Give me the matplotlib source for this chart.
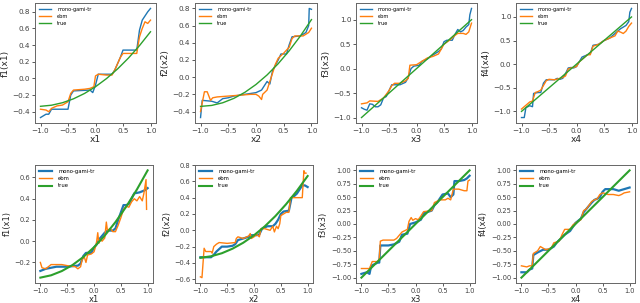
import matplotlib
matplotlib.use("Agg")
import matplotlib.pyplot as plt

# ---- top row (first run) ----
t1_gx = [-1.0, -0.8, -0.6, -0.4, -0.2, 0.0, 0.2, 0.4, 0.6, 0.8, 1.0]
t1_true = [-0.335, -0.322, -0.292, -0.245, -0.181, -0.1, -0.002, 0.113, 0.245, 0.394, 0.56]
t1_bx = [-1.0, -0.9, -0.85, -0.8, -0.55, -0.5, -0.45, -0.4, -0.1, -0.05, 0.0, 0.05, 0.3, 0.35,
         0.45, 0.5, 0.75, 0.8, 0.85, 0.9, 0.95, 1.0]
t1_by = [-0.47, -0.43, -0.43, -0.37, -0.37, -0.37, -0.2, -0.15, -0.14, -0.17, -0.08, 0.05, 0.05, 0.1,
         0.25, 0.34, 0.34, 0.58, 0.7, 0.75, 0.8, 0.84]
t1_ex = [-1.0, -0.9, -0.85, -0.8, -0.7, -0.6, -0.5, -0.45, -0.4, -0.2, -0.1, -0.03, 0.0, 0.05, 0.2,
         0.3, 0.35, 0.45, 0.5, 0.75, 0.8, 0.85, 0.9, 0.95, 1.0]
t1_ey = [-0.37, -0.38, -0.4, -0.36, -0.33, -0.32, -0.28, -0.18, -0.14, -0.13, -0.12, -0.1, 0.03, 0.05,
         0.04, 0.04, 0.1, 0.25, 0.3, 0.3, 0.5, 0.6, 0.68, 0.66, 0.7]

t2_gx = [-1.0, -0.8, -0.6, -0.4, -0.2, 0.0, 0.2, 0.4, 0.6, 0.8, 1.0]
t2_true = [-0.34, -0.329, -0.298, -0.247, -0.176, -0.085, 0.026, 0.157, 0.308, 0.479, 0.67]
t2_bx = [-1.0, -0.97, -0.8, -0.7, -0.6, -0.5, -0.4, -0.2, 0.0, 0.1, 0.15, 0.2, 0.25, 0.3, 0.4,
         0.45, 0.55, 0.6, 0.65, 0.8, 0.9, 0.95, 0.96, 1.0]
t2_by = [-0.47, -0.27, -0.28, -0.3, -0.25, -0.24, -0.22, -0.2, -0.18, -0.15, -0.1, -0.05, -0.08, 0.08,
         0.2, 0.27, 0.27, 0.38, 0.47, 0.48, 0.52, 0.6, 0.8, 0.79]
t2_ex = [-1.0, -0.97, -0.93, -0.88, -0.82, -0.78, -0.7, -0.5, -0.3, -0.1, 0.0, 0.05, 0.1, 0.12, 0.2,
         0.25, 0.3, 0.35, 0.4, 0.5, 0.6, 0.65, 0.7, 0.85, 0.9, 0.95, 1.0]
t2_ey = [-0.4, -0.3, -0.17, -0.17, -0.27, -0.24, -0.23, -0.22, -0.21, -0.2, -0.2, -0.22, -0.26, -0.2,
         -0.15, -0.05, 0.05, 0.15, 0.22, 0.28, 0.35, 0.45, 0.48, 0.48, 0.5, 0.52, 0.57]

t3_gx = [-1.0, 1.0]
t3_true = [-1.0, 1.0]
t3_bx = [-1.0, -0.95, -0.9, -0.85, -0.8, -0.75, -0.7, -0.65, -0.6, -0.55, -0.5, -0.45, -0.3, -0.2,
         -0.15, -0.1, -0.05, 0.05, 0.1, 0.2, 0.3, 0.4, 0.45, 0.5, 0.55, 0.65, 0.7, 0.75, 0.8, 0.85,
         0.9, 0.95, 0.97, 1.0]
t3_by = [-0.8, -0.83, -0.85, -0.72, -0.73, -0.78, -0.78, -0.74, -0.6, -0.57, -0.45, -0.33, -0.33, -0.28,
         -0.18, 0.0, 0.05, 0.07, 0.15, 0.2, 0.28, 0.35, 0.4, 0.55, 0.58, 0.58, 0.7, 0.8, 0.75, 0.78,
         0.85, 0.9, 1.1, 1.23]
t3_ex = [-1.0, -0.9, -0.85, -0.7, -0.6, -0.5, -0.45, -0.4, -0.3, -0.2, -0.15, -0.12, 0.0, 0.1, 0.2,
         0.3, 0.4, 0.45, 0.5, 0.6, 0.7, 0.75, 0.85, 0.9, 0.95, 1.0]
t3_ey = [-0.72, -0.7, -0.66, -0.67, -0.6, -0.45, -0.35, -0.3, -0.3, -0.25, -0.2, 0.07, 0.08, 0.15, 0.22,
         0.25, 0.3, 0.4, 0.5, 0.58, 0.68, 0.72, 0.72, 0.7, 0.75, 0.93]

t4_gx = [-1.0, 1.0]
t4_true = [-1.0, 1.0]
t4_bx = [-1.0, -0.95, -0.92, -0.85, -0.8, -0.78, -0.7, -0.65, -0.6, -0.55, -0.4, -0.35, -0.3, -0.25,
         -0.2, -0.15, -0.1, -0.05, 0.0, 0.05, 0.1, 0.2, 0.25, 0.3, 0.4, 0.5, 0.6, 0.7, 0.8, 0.9,
         0.95, 0.97, 1.0]
t4_by = [-1.13, -1.13, -0.92, -0.88, -0.9, -0.62, -0.6, -0.6, -0.4, -0.33, -0.33, -0.3, -0.32, -0.3,
         -0.2, -0.08, -0.07, -0.08, -0.05, 0.05, 0.15, 0.2, 0.22, 0.4, 0.42, 0.5, 0.55, 0.65, 0.75, 0.82,
         0.9, 1.1, 1.18]
t4_ex = [-1.0, -0.9, -0.85, -0.8, -0.75, -0.7, -0.65, -0.6, -0.55, -0.5, -0.4, -0.3, -0.25, -0.2,
         -0.15, -0.1, 0.0, 0.05, 0.1, 0.2, 0.25, 0.3, 0.35, 0.4, 0.5, 0.6, 0.7, 0.75, 0.8, 0.85, 0.9,
         0.95, 1.0]
t4_ey = [-0.95, -0.85, -0.8, -0.78, -0.6, -0.58, -0.55, -0.45, -0.35, -0.32, -0.33, -0.3, -0.28, -0.25,
         -0.1, -0.08, -0.05, 0.05, 0.1, 0.2, 0.2, 0.38, 0.4, 0.42, 0.5, 0.55, 0.6, 0.7, 0.68, 0.65, 0.7,
         0.8, 0.87]

# ---- bottom row (second run) ----
b1_gx = [-1.0, -0.8, -0.6, -0.4, -0.2, 0.0, 0.2, 0.4, 0.6, 0.8, 1.0]
b1_true = [-0.343, -0.321, -0.281, -0.224, -0.149, -0.057, 0.053, 0.18, 0.325, 0.487, 0.667]
b1_bx = [-1.0, -0.9, -0.8, -0.7, -0.6, -0.5, -0.4, -0.3, -0.25, -0.2, -0.15, -0.1, -0.05, 0.0, 0.05,
         0.1, 0.15, 0.2, 0.25, 0.3, 0.35, 0.4, 0.45, 0.5, 0.55, 0.6, 0.65, 0.7, 0.75, 0.85, 0.9, 0.95, 1.0]
b1_by = [-0.28, -0.26, -0.25, -0.24, -0.24, -0.24, -0.235, -0.23, -0.21, -0.14, -0.11, -0.11, -0.11,
         -0.06, -0.03, 0.02, 0.05, 0.08, 0.1, 0.1, 0.1, 0.12, 0.2, 0.27, 0.34, 0.34, 0.35, 0.4, 0.45,
         0.46, 0.47, 0.48, 0.5]
b1_ex = [-1.0, -0.97, -0.9, -0.85, -0.8, -0.6, -0.5, -0.35, -0.3, -0.25, -0.22, -0.18, -0.15, -0.12,
         -0.05, 0.0, 0.03, 0.05, 0.07, 0.09, 0.12, 0.15, 0.2, 0.23, 0.25, 0.3, 0.35, 0.4, 0.45, 0.5,
         0.55, 0.6, 0.65, 0.7, 0.75, 0.8, 0.85, 0.9, 0.93, 0.97, 0.98]
b1_ey = [-0.2, -0.25, -0.26, -0.24, -0.22, -0.22, -0.23, -0.24, -0.26, -0.24, -0.17, -0.15, -0.2, -0.13,
         -0.12, -0.1, -0.05, 0.0, 0.08, -0.02, 0.02, 0.0, 0.03, 0.18, 0.1, 0.12, 0.09, 0.09, 0.15, 0.22,
         0.3, 0.33, 0.32, 0.37, 0.4, 0.38, 0.42, 0.38, 0.45, 0.58, 0.3]

b2_gx = [-1.0, -0.8, -0.6, -0.4, -0.2, 0.0, 0.2, 0.4, 0.6, 0.8, 1.0]
b2_true = [-0.337, -0.318, -0.281, -0.225, -0.152, -0.061, 0.048, 0.175, 0.321, 0.484, 0.665]
b2_bx = [-1.0, -0.8, -0.75, -0.7, -0.6, -0.5, -0.4, -0.35, -0.3, -0.2, -0.1, -0.05, 0.05, 0.1, 0.15,
         0.25, 0.35, 0.4, 0.45, 0.5, 0.55, 0.65, 0.7, 0.75, 0.8, 0.85, 0.9, 0.95, 1.0]
b2_by = [-0.33, -0.33, -0.3, -0.26, -0.2, -0.2, -0.19, -0.17, -0.12, -0.1, -0.08, -0.06, -0.06, -0.05,
         0.02, 0.05, 0.05, 0.08, 0.13, 0.2, 0.23, 0.24, 0.4, 0.42, 0.45, 0.5, 0.55, 0.55, 0.53]
b2_ex = [-1.0, -0.97, -0.95, -0.93, -0.9, -0.8, -0.78, -0.75, -0.7, -0.65, -0.5, -0.35, -0.33, -0.3,
         -0.2, -0.1, -0.07, -0.05, 0.0, 0.05, 0.1, 0.13, 0.2, 0.3, 0.35, 0.38, 0.42, 0.45, 0.48, 0.5,
         0.6, 0.65, 0.68, 0.8, 0.9, 0.93, 0.95, 0.97]
b2_ey = [-0.57, -0.58, -0.4, -0.22, -0.26, -0.26, -0.28, -0.2, -0.17, -0.15, -0.16, -0.15, -0.1, -0.08,
         -0.1, -0.07, -0.04, -0.1, -0.08, -0.05, -0.08, 0.02, 0.02, 0.0, 0.05, -0.02, 0.05, 0.02, 0.08,
         0.18, 0.22, 0.22, 0.4, 0.4, 0.4, 0.73, 0.7, 0.7]

b3_gx = [-1.0, 1.0]
b3_true = [-1.0, 1.0]
b3_bx = [-1.0, -0.9, -0.85, -0.82, -0.7, -0.67, -0.65, -0.5, -0.4, -0.3, -0.25, -0.15, -0.1, 0.0, 0.1,
         0.15, 0.3, 0.35, 0.4, 0.5, 0.6, 0.65, 0.7, 0.72, 0.8, 0.9, 0.95, 1.0]
b3_by = [-0.93, -0.9, -0.93, -0.78, -0.72, -0.72, -0.4, -0.4, -0.38, -0.33, -0.2, -0.18, 0.0, 0.03, 0.08,
         0.2, 0.25, 0.35, 0.4, 0.55, 0.57, 0.5, 0.55, 0.8, 0.8, 0.82, 0.85, 0.9]
b3_ex = [-1.0, -0.85, -0.8, -0.7, -0.67, -0.65, -0.6, -0.4, -0.35, -0.25, -0.15, -0.12, -0.08, -0.05,
         0.0, 0.05, 0.1, 0.15, 0.3, 0.35, 0.45, 0.55, 0.6, 0.65, 0.7, 0.8, 0.9, 0.95, 0.97, 1.0]
b3_ey = [-0.83, -0.83, -0.7, -0.7, -0.65, -0.32, -0.3, -0.3, -0.27, -0.15, -0.1, 0.05, 0.12, 0.07, 0.1,
         0.08, 0.15, 0.23, 0.25, 0.4, 0.45, 0.45, 0.48, 0.45, 0.65, 0.65, 0.62, 0.62, 0.8, 0.82]

b4_gx = [-1.0, 1.0]
b4_true = [-1.0, 1.0]
b4_bx = [-1.0, -0.9, -0.85, -0.8, -0.78, -0.7, -0.6, -0.5, -0.4, -0.35, -0.3, -0.2, -0.1, 0.0, 0.1,
         0.15, 0.2, 0.3, 0.35, 0.4, 0.45, 0.5, 0.55, 0.7, 0.8, 0.9, 1.0]
b4_by = [-0.9, -0.9, -0.85, -0.83, -0.58, -0.53, -0.48, -0.48, -0.42, -0.35, -0.3, -0.2, -0.13, 0.02,
         0.1, 0.22, 0.28, 0.4, 0.45, 0.47, 0.5, 0.6, 0.65, 0.65, 0.62, 0.65, 0.68]
b4_ex = [-1.0, -0.9, -0.85, -0.8, -0.78, -0.7, -0.65, -0.6, -0.55, -0.45, -0.4, -0.3, -0.25, -0.2,
         -0.1, -0.05, 0.0, 0.05, 0.1, 0.15, 0.2, 0.3, 0.35, 0.4, 0.45, 0.5, 0.55, 0.6, 0.7, 0.8, 0.85,
         0.9, 1.0]
b4_ey = [-0.78, -0.8, -0.78, -0.78, -0.55, -0.5, -0.42, -0.45, -0.48, -0.45, -0.35, -0.32, -0.2, -0.1,
         -0.1, -0.02, 0.02, 0.05, 0.08, 0.25, 0.28, 0.42, 0.45, 0.47, 0.55, 0.58, 0.57, 0.55, 0.55, 0.53,
         0.55, 0.58, 0.6]

top_panels = [
    (t1_bx, t1_by, t1_ex, t1_ey, t1_gx, t1_true, 'x1', 'f1(x1)', [-0.4, -0.2, 0.0, 0.2, 0.4, 0.6, 0.8]),
    (t2_bx, t2_by, t2_ex, t2_ey, t2_gx, t2_true, 'x2', 'f2(x2)', [-0.4, -0.2, 0.0, 0.2, 0.4, 0.6, 0.8]),
    (t3_bx, t3_by, t3_ex, t3_ey, t3_gx, t3_true, 'x3', 'f3(x3)', [-1.0, -0.5, 0.0, 0.5, 1.0]),
    (t4_bx, t4_by, t4_ex, t4_ey, t4_gx, t4_true, 'x4', 'f4(x4)', [-1.0, -0.5, 0.0, 0.5, 1.0]),
]
bot_panels = [
    (b1_bx, b1_by, b1_ex, b1_ey, b1_gx, b1_true, 'x1', 'f1(x1)', [-0.2, 0.0, 0.2, 0.4, 0.6]),
    (b2_bx, b2_by, b2_ex, b2_ey, b2_gx, b2_true, 'x2', 'f2(x2)', [-0.6, -0.4, -0.2, 0.0, 0.2, 0.4, 0.6, 0.8]),
    (b3_bx, b3_by, b3_ex, b3_ey, b3_gx, b3_true, 'x3', 'f3(x3)',
     [-1.0, -0.75, -0.5, -0.25, 0.0, 0.25, 0.5, 0.75, 1.0]),
    (b4_bx, b4_by, b4_ex, b4_ey, b4_gx, b4_true, 'x4', 'f4(x4)',
     [-1.0, -0.75, -0.5, -0.25, 0.0, 0.25, 0.5, 0.75, 1.0]),
]
xticks = [-1.0, -0.5, 0.0, 0.5, 1.0]

W, H = 640, 303
fig = plt.figure(figsize=(6.4, 3.03), dpi=100)


def draw(panel, rect, lw_b, lw_g, leg_fs, tick_fs, lab_fs, bottom_row):
    bx, by, ex, ey, gx, gy, xl, yl, yt = panel
    ax = fig.add_axes(rect)
    ax.plot(bx, by, color='C0', lw=lw_b, label='mono-gami-tr')
    ax.plot(ex, ey, color='C1', lw=1.0, label='ebm')
    ax.plot(gx, gy, color='C2', lw=lw_g, label='true')
    ax.set_xticks(xticks)
    ax.set_yticks(yt)
    fmt = '%.2f' if bottom_row and len(yt) == 9 else '%.1f'
    ax.set_yticklabels([(fmt % v).replace('-', '\u2212') for v in yt])
    ax.tick_params(labelsize=tick_fs, length=2.2, width=0.6, pad=1.2, colors='0.25')
    ax.set_xlabel(xl, fontsize=lab_fs, labelpad=0.8, color='0.15')
    ax.set_ylabel(yl, fontsize=lab_fs, labelpad=2, color='0.15')
    for s in ax.spines.values():
        s.set_color('0.4')
        s.set_linewidth(0.7)
    ax.legend(loc='upper left', fontsize=leg_fs, frameon=False, handlelength=2.5,
              borderaxespad=0.3, labelspacing=0.45, handletextpad=1.2)
    return ax


top_left = [35, 195, 356, 516]
top_w = [121, 122, 121, 121]
for i, p in enumerate(top_panels):
    rect = [top_left[i] / W, (H - 123) / H, top_w[i] / W, 120 / H]
    draw(p, rect, 1.0, 1.0, 3.6, 5.2, 6.5, False)

bot_left = [35, 195, 356, 516]
bot_w = [118, 118, 119, 119]
for i, p in enumerate(bot_panels):
    rect = [bot_left[i] / W, (H - 283) / H, bot_w[i] / W, 118 / H]
    draw(p, rect, 1.6, 1.5, 3.8, 4.8, 6.0, True)

fig.savefig('out.png', dpi=100)
